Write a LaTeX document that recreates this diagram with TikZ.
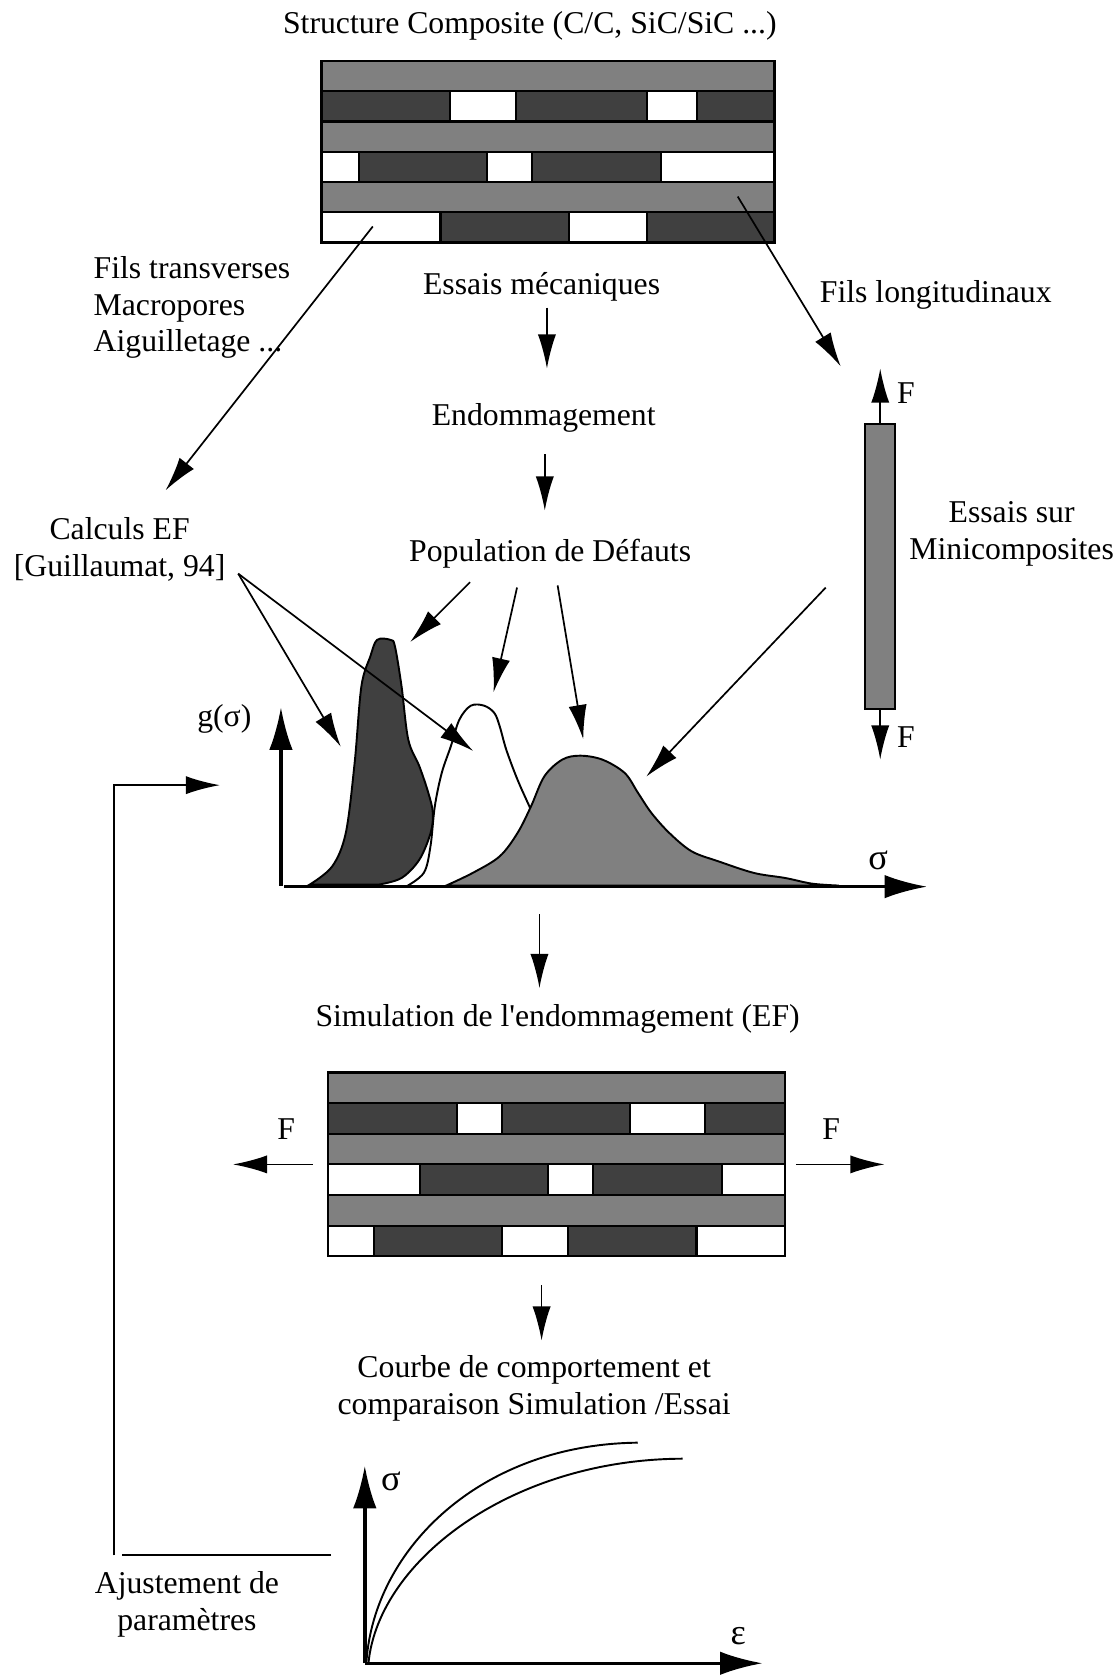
\documentclass[tikz,border=0pt]{standalone}
\usepackage{fontspec}
\setmainfont{Liberation Serif}[Ligatures=TeXOff]
\usetikzlibrary{arrows.meta}
\colorlet{dark}{black!75}
\colorlet{mid}{black!50}
\tikzstyle{lbl}=[inner sep=0pt,font=\fontsize{14.85}{17.2}\selectfont]
\tikzstyle{cell}=[draw,line width=1pt]
\tikzstyle{flow}=[-{Latex[length=16pt,width=8.5pt]},line width=0.8pt]
\tikzstyle{axis}=[-{Latex[length=20pt,width=11pt]},line width=1.6pt]
\tikzstyle{peak}=[draw,line width=0.9pt]

\begin{document}
\begin{tikzpicture}[x=0.5pt,y=-0.5pt]
\useasboundingbox (0,0) rectangle (1048,1568);

\node (title) [lbl,anchor=base] at (496,31) {Structure Composite (C/C, SiC/SiC ...)};

\foreach \y in {57,113.7,170.3}
  \draw[cell,fill=mid] (301,\y) rectangle (725,{\y+28.3});
\foreach \a/\b/\c in {301/421/dark,421/483/white,483/606/dark,606/652.5/white,652.5/725/dark}
  \draw[cell,fill=\c] (\a,85.3) rectangle (\b,113.7);
\foreach \a/\b/\c in {301/336/white,336/456/dark,456/498/white,498/618.5/dark,618.5/725/white}
  \draw[cell,fill=\c] (\a,142) rectangle (\b,170.3);
\foreach \a/\b/\c in {301/412.4/white,412.4/532.4/dark,532.4/606/white,606/725/dark}
  \draw[cell,fill=\c] (\a,198.7) rectangle (\b,227);

\node (trans) [lbl,anchor=west,align=left] at (87.3,288) {Fils transverses\\Macropores\\Aiguilletage ...};
\node (mech) [lbl,anchor=base] at (507,276) {Essais mécaniques};
\node (longi) [lbl,anchor=base] at (876,283) {Fils longitudinaux};
\node (endo) [lbl,anchor=base] at (509,398) {Endommagement};
\node (ef) [lbl,align=center] at (112,514) {Calculs EF\\{[}Guillaumat, 94{]}};
\node (pop) [lbl,anchor=base] at (515,526) {Population de Défauts};
\node (mini) [lbl,align=center] at (947,500) {Essais sur\\Minicomposites};

\coordinate (tl) at (349,212);
\coordinate (tl-tip) at (155,459);
\coordinate (tr) at (690.6,184);
\coordinate (tr-tip) at (787,343);
\draw[flow] (tl) -- (tl-tip);
\draw[flow] (tr) -- (tr-tip);
\draw[flow] (512,288) -- (512,345);
\draw[flow] (510,425) -- (510,478);

\node (bar) [cell,fill=mid,rectangle,inner sep=0pt,minimum width=14pt,minimum height=133.5pt] at (824,530.5) {};
\draw[flow] (bar.north) -- ++(0,-51);
\draw[flow] (bar.south) -- ++(0,46);
\node (f-up) [lbl,anchor=base] at (848,378) {F};
\node (f-down) [lbl,anchor=base] at (848,700) {F};

\draw[peak,fill=white] plot[smooth,tension=0.55] coordinates {(380,830) (396.8,817) (403,792) (407,755) (413.5,723.6) (422,698.7) (430,673.7) (440.7,660.6) (453.2,660.6) (462.8,667.5) (467.8,680) (474,702) (484.5,730) (497,758) (509.6,786) (526,814) (540,830)} -- cycle;
\draw[peak,fill=dark] plot[smooth,tension=0.55] coordinates {(290,828) (311,811) (323.7,779.7) (332,714) (338.3,642.5) (346.7,614.4) (353,599) (365.5,599) (369.7,605) (375.9,642.5) (382.2,692.4) (392.6,717.4) (401,742.3) (405.2,761) (403.1,779.7) (392.6,804.7) (375.9,821.9) (355,828)} -- cycle;
\draw[peak,fill=mid] plot[smooth,tension=0.55] coordinates {(417.7,829) (442.8,817) (467.8,801.6) (484.5,779.7) (497.1,754.8) (509.6,726.7) (526.3,711.1) (543,707.4) (563.9,711.1) (584.8,723.6) (597.3,742.3) (609.8,761) (626.5,779.7) (647.4,796.9) (672.5,806.3) (705.9,817.2) (735.1,821.9) (760.2,827.2) (785.3,829)} -- cycle;

\coordinate (o1) at (263,829);
\draw[axis] (o1) -- (263,662);
\draw[axis] (266,830) -- (868,830);
\node (g) [lbl,anchor=base] at (210,680) {g(σ)};
\node (s1) [lbl,anchor=base,font=\fontsize{17}{17}\selectfont] at (822,814) {σ};

\coordinate (ef-src) at (223,537);
\draw[flow] (ef-src) -- (319,699);
\draw[flow] (ef-src) -- (443,703);
\draw[flow] (440,545) -- (384,601);
\draw[flow] (484,550) -- (462,648);
\draw[flow] (522,548) -- (546,692);
\draw[flow] (773,550) -- (605,727);

\draw[flow] (505,856) -- (505,925);
\node (simu) [lbl,anchor=base] at (522,961) {Simulation de l'endommagement (EF)};

\foreach \y in {1004,1061.3,1118.7}
  \draw[cell,fill=mid] (307,\y) rectangle (735,{\y+28.7});
\foreach \a/\b/\c in {307/428/dark,428/470/white,470/590/dark,590/660/white,660/735/dark}
  \draw[cell,fill=\c] (\a,1032.7) rectangle (\b,1061.3);
\foreach \a/\b/\c in {307/393/white,393/513/dark,513/555/white,555/676/dark,676/735/white}
  \draw[cell,fill=\c] (\a,1090) rectangle (\b,1118.7);
\foreach \a/\b/\c in {307/350/white,350/470/dark,470/532/white,532/652/dark,652/735/white}
  \draw[cell,fill=\c] (\a,1147.3) rectangle (\b,1176);

\draw[flow] (293,1090) -- (218,1090);
\draw[flow] (745,1090) -- (828,1090);
\node (f-left) [lbl,anchor=base] at (268,1067) {F};
\node (f-right) [lbl,anchor=base] at (778,1067) {F};

\draw[flow] (507,1203) -- (507,1255);
\node (courbe) [lbl,align=center] at (500,1300) {Courbe de comportement et\\comparaison Simulation /Essai};

\coordinate (o2) at (341.5,1557);
\draw[axis] (o2) -- (341.5,1372);
\draw[axis] (o2) -- (714,1557);
\draw[line width=0.9pt] (343,1556) .. controls (350,1450) and (450,1352) .. (597,1350.5);
\draw[line width=0.9pt] (345,1556) .. controls (355,1460) and (480,1366) .. (639,1365.5);
\node (s2) [lbl,anchor=base,font=\fontsize{17}{17}\selectfont] at (366,1395) {σ};
\node (eps) [lbl,anchor=base,font=\fontsize{17}{17}\selectfont] at (691,1539) {ε};

\node (adj) [lbl,align=center] at (175,1502) {Ajustement de\\paramètres};
\coordinate (adj-r) at (310,1456);
\coordinate (adj-l) at (114,1456);
\coordinate (fb) at (107,1456);
\coordinate (fb-tip) at (206,735);
\draw[line width=1pt] (adj-r) -- (adj-l);
\draw[flow,line width=1pt] (fb) |- (fb-tip);

\end{tikzpicture}
\end{document}
